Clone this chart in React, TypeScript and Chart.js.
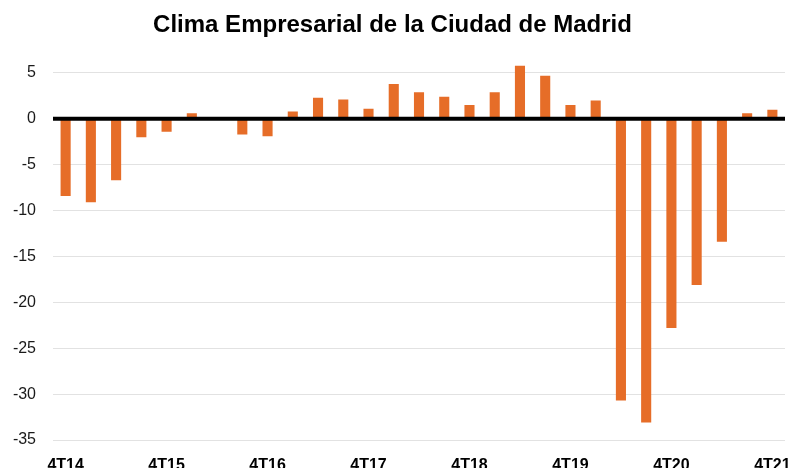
import React, { useEffect, useRef } from "react";
import { Chart, registerables } from "chart.js";

Chart.register(...registerables);

const TITLE = "Clima Empresarial de la Ciudad de Madrid";

const quarters: string[] = [
  "4T14",
  "1T15", "2T15", "3T15", "4T15",
  "1T16", "2T16", "3T16", "4T16",
  "1T17", "2T17", "3T17", "4T17",
  "1T18", "2T18", "3T18", "4T18",
  "1T19", "2T19", "3T19", "4T19",
  "1T20", "2T20", "3T20", "4T20",
  "1T21", "2T21", "3T21", "4T21",
];

const clima: number[] = [
  -8.4,
  -9.1, -6.7, -2.0, -1.4,
  0.6, 0, -1.7, -1.9,
  0.8, 2.3, 2.1, 1.1,
  3.8, 2.9, 2.4, 1.5,
  2.9, 5.8, 4.7, 1.5,
  2.0, -30.7, -33.1, -22.8,
  -18.1, -13.4, 0.6, 1.0,
];

const yTickValues: number[] = [-35, -30, -25, -20, -15, -10, -5, 0, 5];

const Y_MIN = -35;
const Y_MAX = 6;
const LABEL_EVERY = 4;

const FONT = "'Liberation Sans', Arial, Helvetica, sans-serif";

const zeroLine = {
  id: "zeroLine",
  afterDatasetsDraw(chart: any) {
    const { ctx, chartArea, scales } = chart;
    const y = scales.y.getPixelForValue(0);
    ctx.save();
    ctx.strokeStyle = "#000";
    ctx.lineWidth = 4;
    ctx.beginPath();
    ctx.moveTo(chartArea.left, y);
    ctx.lineTo(chartArea.right, y);
    ctx.stroke();
    ctx.restore();
  },
};

export default function App() {
  const ref = useRef<HTMLCanvasElement | null>(null);

  useEffect(() => {
    if (!ref.current) return;
    const chart = new Chart(ref.current, {
      type: "bar",
      data: {
        labels: quarters,
        datasets: [
          {
            data: clima,
            backgroundColor: "#E66D28",
            borderWidth: 0,
            barPercentage: 0.5,
            categoryPercentage: 0.8,
          },
        ],
      },
      options: {
        animation: false,
        responsive: true,
        maintainAspectRatio: false,
        layout: { padding: { left: 0, right: 5, top: 0, bottom: 0 }, autoPadding: false },
        plugins: {
          legend: { display: false },
          tooltip: { enabled: false },
          title: {
            display: true,
            text: TITLE,
            color: "#000",
            font: { family: FONT, size: 24, weight: "bold" },
            padding: { top: 11, bottom: 24 },
          },
        },
        scales: {
          x: {
            grid: { display: false },
            border: { display: false },
            ticks: {
              autoSkip: false,
              maxRotation: 0,
              minRotation: 0,
              padding: 8,
              color: "#000",
              font: { family: FONT, size: 16, weight: "bold" },
              callback: (_v: any, i: number) => (i % LABEL_EVERY === 0 ? quarters[i] : ""),
            },
            afterFit: (s: any) => {
              s.height = 28;
              s.paddingLeft = 0;
              s.paddingRight = 0;
            },
          },
          y: {
            min: Y_MIN,
            max: Y_MAX,
            border: { display: false },
            grid: { color: "#e2e2e2", lineWidth: 1, drawTicks: false },
            ticks: {
              padding: 17,
              color: "#1a1a1a",
              font: { family: FONT, size: 16 },
            },
            afterBuildTicks: (s: any) => {
              s.ticks = yTickValues.map((v) => ({ value: v }));
            },
            afterFit: (s: any) => {
              s.width = 53;
              s.paddingTop = 0;
              s.paddingBottom = 0;
            },
          },
        },
      },
      plugins: [zeroLine],
    });
    return () => chart.destroy();
  }, []);

  return (
    <div style={{ position: "absolute", left: 0, top: 0, width: 790, height: 468, background: "#fff" }}>
      <canvas ref={ref} />
    </div>
  );
}
